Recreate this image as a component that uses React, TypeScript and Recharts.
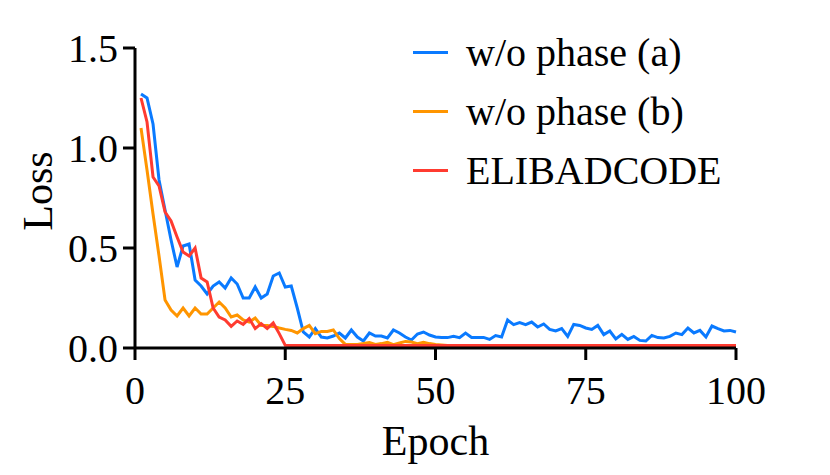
import React from "react";
import { LineChart, Line, XAxis, YAxis, Label } from "recharts";

const epochs = Array.from({ length: 100 }, (_, i) => i + 1);

const phaseA = [
  1.27, 1.25, 1.12, 0.84, 0.69, 0.54, 0.405, 0.51, 0.52, 0.34,
  0.31, 0.27, 0.31, 0.33, 0.3, 0.35, 0.32, 0.25, 0.25, 0.305,
  0.25, 0.27, 0.36, 0.375, 0.305, 0.31, 0.2, 0.08, 0.055, 0.097,
  0.055, 0.05, 0.06, 0.075, 0.05, 0.09, 0.055, 0.035, 0.075, 0.06,
  0.06, 0.05, 0.09, 0.075, 0.055, 0.04, 0.07, 0.08, 0.065, 0.055,
  0.053, 0.052, 0.058, 0.052, 0.075, 0.053, 0.053, 0.053, 0.043, 0.062,
  0.055, 0.14, 0.117, 0.127, 0.117, 0.13, 0.105, 0.12, 0.093, 0.085,
  0.097, 0.058, 0.118, 0.113, 0.1, 0.093, 0.113, 0.067, 0.085, 0.045,
  0.068, 0.043, 0.058, 0.038, 0.035, 0.063, 0.052, 0.05, 0.058, 0.075,
  0.067, 0.1, 0.075, 0.088, 0.055, 0.11, 0.097, 0.085, 0.088, 0.08,
];

const phaseB = [
  1.1, 0.89, 0.67, 0.46, 0.24, 0.19, 0.16, 0.2, 0.16, 0.2,
  0.17, 0.17, 0.2, 0.23, 0.2, 0.155, 0.165, 0.14, 0.13, 0.15,
  0.113, 0.113, 0.108, 0.1, 0.093, 0.088, 0.075, 0.097, 0.113, 0.072,
  0.083, 0.083, 0.09, 0.047, 0.018, 0.018, 0.018, 0.022, 0.027, 0.018,
  0.022, 0.028, 0.017, 0.025, 0.033, 0.03, 0.022, 0.028, 0.022, 0.017,
  0.015, 0.013, 0.012, 0.01, 0.008, 0.008, 0.008, 0.008, 0.008, 0.008,
  0.008, 0.008, 0.008, 0.008, 0.008, 0.008, 0.008, 0.008, 0.008, 0.008,
  0.008, 0.008, 0.008, 0.008, 0.008, 0.008, 0.008, 0.008, 0.008, 0.008,
  0.008, 0.008, 0.008, 0.008, 0.008, 0.008, 0.008, 0.008, 0.008, 0.008,
  0.008, 0.008, 0.008, 0.008, 0.008, 0.008, 0.008, 0.008, 0.008, 0.008,
];

const elibadcode = [
  1.25, 1.13, 0.855, 0.81, 0.68, 0.635, 0.555, 0.48, 0.46, 0.5,
  0.35, 0.33, 0.2, 0.155, 0.14, 0.108, 0.135, 0.118, 0.147, 0.097,
  0.122, 0.097, 0.125, 0.072, 0.013, 0.012, 0.012, 0.012, 0.012, 0.012,
  0.012, 0.012, 0.012, 0.012, 0.012, 0.012, 0.012, 0.012, 0.012, 0.012,
  0.012, 0.012, 0.012, 0.012, 0.012, 0.012, 0.012, 0.012, 0.012, 0.012,
  0.012, 0.012, 0.012, 0.012, 0.012, 0.012, 0.012, 0.012, 0.012, 0.012,
  0.012, 0.012, 0.012, 0.012, 0.012, 0.012, 0.012, 0.012, 0.012, 0.012,
  0.012, 0.012, 0.012, 0.012, 0.012, 0.012, 0.012, 0.012, 0.012, 0.012,
  0.012, 0.012, 0.012, 0.012, 0.012, 0.012, 0.012, 0.012, 0.012, 0.012,
  0.012, 0.012, 0.012, 0.012, 0.012, 0.012, 0.012, 0.012, 0.012, 0.012,
];

const xTicks = [0, 25, 50, 75, 100];
const yTicks = [0, 0.5, 1.0, 1.5];

const series = [
  { key: "a", name: "w/o phase (a)", color: "#0a7aff" },
  { key: "b", name: "w/o phase (b)", color: "#ff9500" },
  { key: "c", name: "ELIBADCODE", color: "#ff3b30" },
];

const data = epochs.map((epoch, i) => ({
  epoch,
  a: phaseA[i],
  b: phaseB[i],
  c: elibadcode[i],
}));

const FONT = '"Liberation Serif", "Times New Roman", serif';

// legend sits on top of the plot, so it must not take space from it
function LegendBox() {
  return (
    <div
      style={{
        position: "absolute",
        left: 413,
        top: 23,
        fontFamily: FONT,
        fontSize: 40,
        color: "#000",
        whiteSpace: "nowrap",
      }}
    >
      {series.map((s) => (
        <div
          key={s.key}
          style={{ display: "flex", alignItems: "center", height: 59, lineHeight: "59px" }}
        >
          <div style={{ width: 35, height: 3, background: s.color, marginRight: 18 }} />
          <span>{s.name}</span>
        </div>
      ))}
    </div>
  );
}

function LossLabel({ viewBox }: any) {
  const cx = viewBox.x + 17;
  const cy = viewBox.y + viewBox.height / 2 - 7;
  return (
    <text
      x={cx}
      y={cy}
      transform={`rotate(-90 ${cx} ${cy})`}
      textAnchor="middle"
      fontFamily={FONT}
      fontSize={42}
      fill="#000"
    >
      Loss
    </text>
  );
}

export default function App() {
  const tickStyle = { fontFamily: FONT, fontSize: 40, fill: "#000" };
  return (
    <div style={{ position: "absolute", left: 0, top: 0, width: 830, height: 475, background: "#fff" }}>
      <LineChart
        width={830}
        height={475}
        data={data}
        margin={{ top: 48, right: 94, bottom: 17, left: 35 }}
      >
        <XAxis
          dataKey="epoch"
          type="number"
          domain={[0, 100]}
          ticks={xTicks}
          height={110}
          tickSize={12}
          tickMargin={16}
          tick={tickStyle}
          axisLine={{ stroke: "#000", strokeWidth: 3 }}
          tickLine={{ stroke: "#000", strokeWidth: 3 }}
        >
          <Label
            value="Epoch"
            position="insideBottom"
            offset={3}
            style={{ fontFamily: FONT, fontSize: 42, fill: "#000" }}
          />
        </XAxis>
        <YAxis
          type="number"
          domain={[0, 1.5]}
          ticks={yTicks}
          width={100}
          tickSize={12}
          tickMargin={5}
          tick={tickStyle}
          tickFormatter={(v: number) => v.toFixed(1)}
          axisLine={{ stroke: "#000", strokeWidth: 3 }}
          tickLine={{ stroke: "#000", strokeWidth: 3 }}
          interval={0}
          allowDataOverflow
        >
          <Label content={<LossLabel />} />
        </YAxis>
        {series.map((s) => (
          <Line
            key={s.key}
            type="linear"
            dataKey={s.key}
            name={s.name}
            stroke={s.color}
            strokeWidth={3}
            dot={false}
            isAnimationActive={false}
          />
        ))}
      </LineChart>
      <LegendBox />
    </div>
  );
}
